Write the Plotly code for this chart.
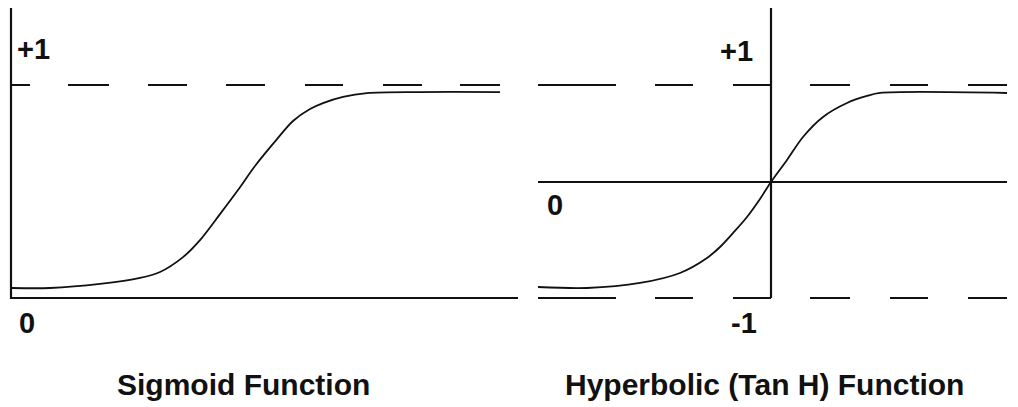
import plotly.graph_objects as go

# ---------------- data ----------------
# Sigmoid panel: x in arbitrary units (0 at the curve's midpoint), y in [0, 1]
sig_x = [-5.65, -4.7, -3.45, -2.45, -1.95, -1.375, -0.95, -0.45, 0.0, 0.425,
         0.975, 1.375, 1.8, 2.125, 2.625, 3.225, 4.55, 6.55]
sig_y = [0.047, 0.047, 0.066, 0.094, 0.122, 0.192, 0.272, 0.394, 0.507, 0.620,
         0.746, 0.831, 0.887, 0.915, 0.944, 0.962, 0.967, 0.967]

# Tanh panel: x in arbitrary units (0 at the vertical axis), y in [-1, +1]
tanh_x = [-5.825, -4.6, -3.275, -2.275, -1.6, -1.275, -0.95, -0.6, -0.275, 0.0,
          0.4, 0.8, 1.3, 1.9, 2.4, 2.725, 5.9]
tanh_y = [-0.897, -0.906, -0.859, -0.765, -0.624, -0.521, -0.390, -0.239, -0.070, 0.089,
          0.296, 0.512, 0.700, 0.831, 0.897, 0.925, 0.925]

# axis / guide extents (data units)
sig_axis_x = -5.675          # vertical axis of the sigmoid panel
sig_base_end = 7.0           # end of the bottom (y = 0) axis
sig_axis_top = 1.362
sig_dash_end = 6.55
sig_upper = 1.0              # +1 asymptote
sig_lower = 0.0              # 0 baseline

tanh_left = -5.825
tanh_right = 5.9
tanh_axis_top = 1.723
tanh_upper = 1.0
tanh_lower = -1.0
tanh_zero = 0.089            # the horizontal "0" line as drawn

# text
sig_labels = ["+1", "0"]
tanh_labels = ["+1", "0", "-1"]
titles = ["Sigmoid Function", "Hyperbolic (Tan H) Function"]

# ---------------- figure ----------------
W, H = 1018, 407
FONT = "Liberation Sans, Arial, Helvetica, sans-serif"
BLACK = "#111111"

fig = go.Figure()

def line(x, y, xa, ya, width=2.0, dash="solid"):
    fig.add_trace(go.Scatter(x=x, y=y, xaxis=xa, yaxis=ya, mode="lines",
                             line=dict(color=BLACK, width=width, dash=dash),
                             hoverinfo="skip", showlegend=False))

# Sigmoid panel
line([sig_axis_x, sig_axis_x, sig_base_end], [sig_axis_top, sig_lower, sig_lower], "x", "y", 2.2)
line([sig_axis_x, sig_dash_end], [sig_upper, sig_upper], "x", "y", 1.8,
     "19px,38px,41px,39px,39px,39px,39px,40px,38px,40px,39px,38px,40px,100px")
fig.add_trace(go.Scatter(x=sig_x, y=sig_y, xaxis="x", yaxis="y", mode="lines",
                         line=dict(color=BLACK, width=1.8, shape="spline", smoothing=0.9),
                         hoverinfo="skip", showlegend=False))

# Tanh panel
tanh_dash = "78px,39px,38px,40px,38px,39px,40px,40px,38px,40px,39px,100px"
line([0, 0], [tanh_axis_top, tanh_lower], "x2", "y2", 2.2)
line([tanh_left, tanh_right], [tanh_zero, tanh_zero], "x2", "y2", 1.8)
line([tanh_left, tanh_right], [tanh_upper, tanh_upper], "x2", "y2", 1.8, tanh_dash)
line([tanh_left, tanh_right], [tanh_lower, tanh_lower], "x2", "y2", 1.8, tanh_dash)
fig.add_trace(go.Scatter(x=tanh_x, y=tanh_y, xaxis="x2", yaxis="y2", mode="lines",
                         line=dict(color=BLACK, width=1.8, shape="spline", smoothing=0.9),
                         hoverinfo="skip", showlegend=False))

# pixel-based layout helpers (layout only)
def px(xp):
    return xp / W

def py(yp):
    return 1 - yp / H

anns = []
def label(text, xc, yc, size):
    anns.append(dict(text=text, x=px(xc), y=py(yc), xref="paper", yref="paper",
                     xanchor="center", yanchor="middle", showarrow=False,
                     font=dict(family=FONT, size=size, color=BLACK, weight=700)))

label(sig_labels[0], 33, 49, 29)
label(sig_labels[1], 26.5, 323, 29)
label(tanh_labels[0], 736, 51, 29)
label(tanh_labels[1], 555, 205, 29)
label(tanh_labels[2], 744, 323, 29)
label(titles[0], 243, 384, 30)
label(titles[1], 764, 384, 30)

split = 529 / W
fig.update_layout(
    width=W, height=H,
    margin=dict(l=0, r=0, t=0, b=0),
    paper_bgcolor="white", plot_bgcolor="white",
    xaxis=dict(domain=[0, split], range=[-5.95, 7.275], visible=False, fixedrange=True),
    yaxis=dict(domain=[0, 1], range=[-0.5117, 1.3991], visible=False, fixedrange=True),
    xaxis2=dict(domain=[split, 1], range=[-6.05, 6.175], visible=False, fixedrange=True),
    yaxis2=dict(domain=[0, 1], range=[-2.0235, 1.798], visible=False, fixedrange=True,
                anchor="x2"),
    annotations=anns,
)

fig.write_html("out.html", config={"displayModeBar": False},
               post_script="document.body.style.margin='0';document.body.style.overflow='hidden';")
